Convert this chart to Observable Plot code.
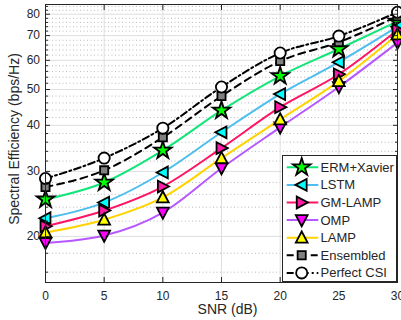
<!DOCTYPE html>
<html><head><meta charset="utf-8">
<script src="https://cdn.jsdelivr.net/npm/d3@7"></script>
<script src="https://cdn.jsdelivr.net/npm/@observablehq/plot@0.6"></script>
<style>
body{margin:0;background:#fff;}
#wrap{position:relative;width:401px;height:320px;font-family:"Liberation Sans",Arial,sans-serif;}
#legend{position:absolute;left:282px;top:155px;width:113px;height:125px;border:1px solid #262626;background:#fff;}
</style></head><body><div id="wrap"></div>
<script>
const snr = [0, 5, 10, 15, 20, 25, 30];
const ermXavier  = [25.2, 28.0, 34.2, 43.9, 54.4, 64.4, 76.5];
const lstm       = [22.4, 24.7, 29.8, 38.3, 48.6, 59.3, 74.0];
const gmLamp     = [21.3, 23.5, 27.3, 34.7, 44.8, 55.0, 72.5];
const omp        = [19.2, 20.1, 23.2, 30.6, 39.5, 50.8, 67.0];
const lamp       = [20.5, 22.2, 25.5, 32.6, 41.5, 52.7, 70.5];
const ensembled  = [27.2, 30.2, 37.1, 48.0, 59.7, 67.2, 79.0];
const perfectCSI = [28.7, 32.6, 39.3, 50.8, 62.8, 69.8, 81.0];
const seriesNames = ["ERM+Xavier", "LSTM", "GM-LAMP", "OMP", "LAMP", "Ensembled", "Perfect CSI"];
const seriesValues = [ermXavier, lstm, gmLamp, omp, lamp, ensembled, perfectCSI];
const yTicks = [20, 30, 40, 50, 60, 70, 80];
const yMinor = [16, 18, 22, 24, 26, 28, 32, 34, 36, 38, 42, 44, 46, 48, 52, 54, 56, 58, 62, 64, 66, 68, 72, 74, 76, 78, 82, 84];
const xTicks = [0, 5, 10, 15, 20, 25, 30];

// custom marker shapes
function triangle(angle) {
  return {draw(ctx, size) {
    const r = Math.sqrt(size / Math.PI);
    const pts = [[0, -r], [0.95 * r, 0.8 * r], [-0.95 * r, 0.8 * r]];
    const c = Math.cos(angle), s = Math.sin(angle);
    pts.forEach(([x, y], i) => {
      const px = x * c - y * s, py = x * s + y * c;
      if (i === 0) ctx.moveTo(px, py); else ctx.lineTo(px, py);
    });
    ctx.closePath();
  }};
}
const pentagram = {draw(ctx, size) {
  const R = Math.sqrt(size / Math.PI), ri = R * 0.382;
  for (let i = 0; i < 10; i++) {
    const a = -Math.PI / 2 + i * Math.PI / 5, rr = i % 2 ? ri : R;
    const x = rr * Math.cos(a), y = rr * Math.sin(a);
    if (i === 0) ctx.moveTo(x, y); else ctx.lineTo(x, y);
  }
  ctx.closePath();
}};

const styles = {
  "ERM+Xavier":  {line: "#12e57a", fill: "#00ff00", symbol: pentagram, r: 9.2, dash: null},
  "LSTM":        {line: "#4dbeee", fill: "#00ffff", symbol: triangle(-Math.PI / 2), r: 6.2, dash: null},
  "GM-LAMP":     {line: "#ff1464", fill: "#ff1aa8", symbol: triangle(Math.PI / 2), r: 6.2, dash: null},
  "OMP":         {line: "#b657ff", fill: "#ff00ff", symbol: triangle(Math.PI), r: 6.2, dash: null},
  "LAMP":        {line: "#ffd400", fill: "#ffff00", symbol: triangle(0), r: 6.2, dash: null},
  "Ensembled":   {line: "#000000", fill: "#808080", symbol: d3.symbolSquare, r: 4.6, dash: "7,5"},
  "Perfect CSI": {line: "#000000", fill: "#ffffff", symbol: d3.symbolCircle, r: 5.6, dash: "7,3,2,3"}
};

const table = seriesNames.flatMap((name, k) => snr.map((x, i) => ({snr: x, se: seriesValues[k][i], name})));

const seriesMarks = seriesNames.flatMap(name => {
  const st = styles[name];
  const d = table.filter(t => t.name === name);
  return [
    Plot.line(d, {x: "snr", y: "se", stroke: st.line, strokeWidth: 2, curve: "monotone-x", strokeDasharray: st.dash}),
    Plot.dot(d, {x: "snr", y: "se", symbol: st.symbol, r: st.r, fill: st.fill, stroke: "black", strokeWidth: 1.8})
  ];
});

const blank = () => "";
const plot = Plot.plot({
  width: 401, height: 320,
  marginLeft: 45, marginRight: 4, marginTop: 4, marginBottom: 38,
  style: {fontFamily: "'Liberation Sans', Arial, sans-serif", fontSize: "12px", color: "#262626", background: "white", overflow: "visible"},
  x: {domain: [0, 30]},
  y: {type: "log", domain: [15, 85]},
  marks: [
    Plot.gridY(yMinor, {stroke: "#a8a8a8", strokeOpacity: 1, strokeDasharray: "1,2.5", strokeWidth: 0.8}),
    Plot.gridY(yTicks, {stroke: "#dedede", strokeOpacity: 1}),
    Plot.gridX(xTicks, {stroke: "#dedede", strokeOpacity: 1}),
    ...seriesMarks,
    Plot.frame({stroke: "#262626"}),
    Plot.axisY(yTicks, {tickSize: -5, tickPadding: 10.5, tickFormat: d => String(d), label: null, fontSize: 12}),
    Plot.axisY(yMinor, {tickSize: -3, tickFormat: blank, label: null}),
    Plot.axisY(yTicks, {anchor: "right", tickSize: -5, tickFormat: blank, label: null}),
    Plot.axisY(yMinor, {anchor: "right", tickSize: -3, tickFormat: blank, label: null}),
    Plot.axisX(xTicks, {tickSize: -5, tickPadding: 14.2, tickFormat: d => String(d), label: null, fontSize: 12}),
    Plot.axisX(xTicks, {anchor: "top", tickSize: -5, tickFormat: blank, label: null}),
    Plot.text(["SNR (dB)"], {frameAnchor: "bottom", textAnchor: "middle", lineAnchor: "middle", dy: 27, dx: 6, fontSize: 14, fill: "#262626"}),
    Plot.text(["Spectral Efficiency (bps/Hz)"], {frameAnchor: "left", textAnchor: "middle", lineAnchor: "middle", dx: -30.5, dy: -4.5, rotate: -90, fontSize: 14, fill: "#262626"})
  ]
});
const wrap = document.getElementById("wrap");
wrap.appendChild(plot);

// legend
const leg = d3.select(wrap).append("div").attr("id", "legend");
const svg = leg.append("svg").attr("width", 113).attr("height", 125);
seriesNames.forEach((name, i) => {
  const st = styles[name];
  const cy = 11.3 + i * 17.6;
  const g = svg.append("g").attr("transform", `translate(0,${cy})`);
  g.append("line").attr("x1", 3.7).attr("x2", 35.3).attr("y1", 0).attr("y2", 0)
    .attr("stroke", st.line).attr("stroke-width", 2).attr("stroke-dasharray", st.dash);
  g.append("path").attr("transform", "translate(18.7,0)")
    .attr("d", d3.symbol(st.symbol, st.r * st.r * Math.PI)())
    .attr("fill", st.fill).attr("stroke", "black").attr("stroke-width", 1.8);
  g.append("text").attr("x", 37.5).attr("y", 0).attr("dy", "0.35em")
    .attr("font-size", 13).attr("fill", "#262626").text(name);
});
</script>
</body></html>
